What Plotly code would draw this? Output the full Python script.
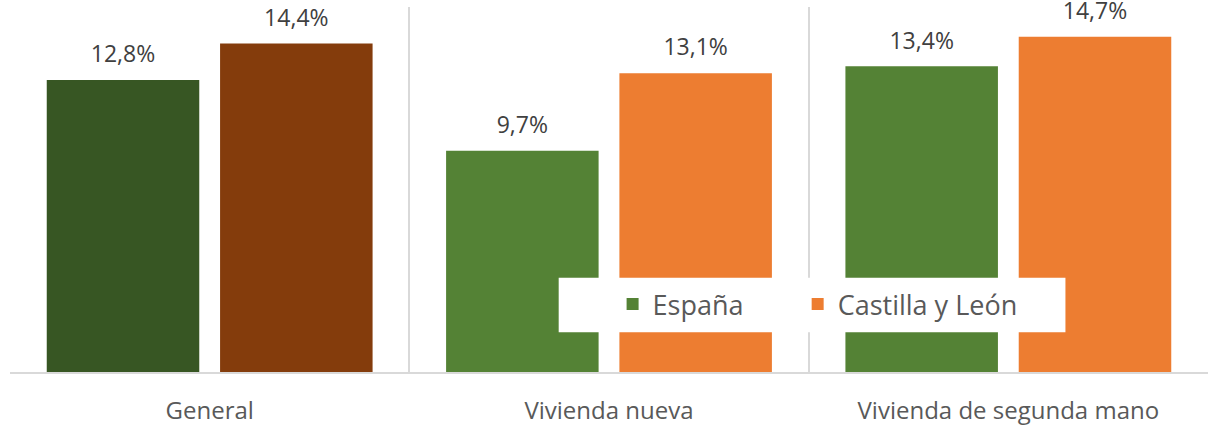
import plotly.graph_objects as go

categorias = ["General", "Vivienda nueva", "Vivienda de segunda mano"]
espana = [12.8, 9.7, 13.4]
castilla = [14.4, 13.1, 14.7]

# "General" usa tonos más oscuros
oscuro_espana = "#375623"
oscuro_castilla = "#843C0C"
color_espana = "#548235"
color_castilla = "#ED7D31"


def etiqueta(v):
    # la segunda línea (pequeña) separa la etiqueta de la barra
    return "<span style='font-size:23px'>" + f"{v:.1f}%".replace(".", ",") + "</span><br> "


def barra(nombre, xs, ys, color, grupo, leyenda):
    return go.Bar(
        name=nombre,
        x=xs,
        y=ys,
        offsetgroup=grupo,
        legendgroup=grupo,
        showlegend=leyenda,
        marker=dict(color=color, line=dict(width=0)),
        text=[etiqueta(v) for v in ys],
        textposition="outside",
        textfont=dict(size=9, color="#404040"),
        cliponaxis=False,
    )


fig = go.Figure()
fig.add_trace(barra("España", categorias[:1], espana[:1], oscuro_espana, "es", False))
fig.add_trace(barra("España" + "\u00a0" * 7, categorias[1:], espana[1:], color_espana, "es", True))
fig.add_trace(barra("Castilla y León", categorias[:1], castilla[:1], oscuro_castilla, "cyl", False))
fig.add_trace(barra("Castilla y León", categorias[1:], castilla[1:], color_castilla, "cyl", True))

fig.update_layout(
    width=1208,
    height=426,
    paper_bgcolor="white",
    plot_bgcolor="white",
    font=dict(family="Open Sans", color="#595959"),
    margin=dict(l=10, r=0, t=7, b=51),
    barmode="group",
    bargap=0.132,
    bargroupgap=0.12,
    showlegend=True,
    legend=dict(
        orientation="h",
        x=0.503,
        y=0.185,
        xanchor="left",
        yanchor="middle",
        bgcolor="rgba(0,0,0,0)",
        font=dict(size=27, color="#595959"),
        traceorder="normal",
    ),
    # caja blanca de la leyenda
    shapes=[
        dict(
            type="rect",
            xref="paper",
            yref="paper",
            x0=0.458,
            x1=0.881,
            y0=0.109,
            y1=0.258,
            fillcolor="white",
            line=dict(width=0),
            layer="above",
        )
    ],
)

fig.update_xaxes(
    categoryorder="array",
    categoryarray=categorias,
    tickson="boundaries",
    showgrid=True,
    gridcolor="#D9D9D9",
    gridwidth=1.5,
    showline=True,
    linecolor="#D9D9D9",
    linewidth=1.5,
    ticks="",
    tickfont=dict(size=24, color="#595959"),
    ticklabelstandoff=16,
)

fig.update_yaxes(
    range=[0, 16],
    visible=False,
    showgrid=False,
    zeroline=False,
)

fig.write_html(
    "out.html",
    config={"displayModeBar": False},
    post_script="document.body.style.margin='0';",
)
